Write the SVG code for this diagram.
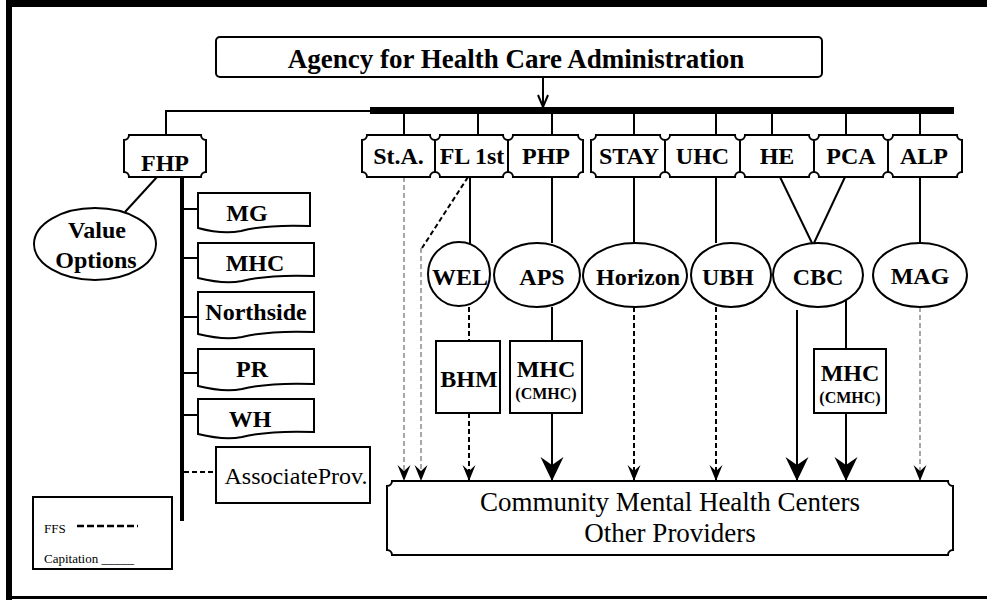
<svg xmlns="http://www.w3.org/2000/svg" width="987" height="600" viewBox="0 0 987 600">
<style>
.n{fill:#fff;stroke:#000;stroke-width:2}
.t{font-family:"Liberation Serif","Times New Roman",serif;font-weight:bold;font-size:24px;text-anchor:middle;fill:#000}
.r{font-family:"Liberation Serif","Times New Roman",serif;font-weight:normal;text-anchor:middle;fill:#000}
.s{stroke:#000;stroke-width:2;fill:none}
.d{stroke:#000;stroke-width:2;fill:none;stroke-dasharray:5 3}
.g{stroke:#8a8a8a;stroke-width:1.5;fill:none;stroke-dasharray:5 3}
</style>
<defs>
<marker id="sm" markerUnits="userSpaceOnUse" markerWidth="16" markerHeight="14" viewBox="0 -7 16 14" refX="16" refY="0" orient="auto">
<path d="M16,0 L0,-6.5 L6,0 L0,6.5 Z" fill="#000"/>
</marker>
<marker id="lg" markerUnits="userSpaceOnUse" markerWidth="24" markerHeight="24" viewBox="0 -12 24 24" refX="24" refY="0" orient="auto">
<path d="M24,0 L0,-11.5 L8,0 L0,11.5 Z" fill="#000"/>
</marker>
</defs>
<rect width="987" height="600" fill="#fff"/>
<g id="frame">
<rect x="6" y="0" width="981" height="7" fill="#000"/>
<rect x="6" y="0" width="6" height="600" fill="#000"/>
<line x1="6" y1="597.5" x2="987" y2="597.5" stroke="#000" stroke-width="3"/>
</g>
<g id="connectors">
<line class="s" x1="543" y1="77" x2="543" y2="106"/>
<polyline class="s" points="538,95 543,107 548,95"/>
<rect x="370" y="107" width="584" height="7" fill="#000"/>
<polyline class="s" points="370,111 166,111 166,135"/>
<line class="s" x1="404" y1="114" x2="404" y2="135"/>
<line class="s" x1="478" y1="114" x2="478" y2="135"/>
<line class="s" x1="552" y1="114" x2="552" y2="135"/>
<line class="s" x1="634" y1="114" x2="634" y2="135"/>
<line class="s" x1="716" y1="114" x2="716" y2="135"/>
<line class="s" x1="772" y1="114" x2="772" y2="135"/>
<line class="s" x1="846" y1="114" x2="846" y2="135"/>
<line class="s" x1="920" y1="114" x2="920" y2="135"/>
<line class="s" x1="157" y1="177" x2="125" y2="212"/>
<line x1="182" y1="177" x2="182" y2="521" stroke="#000" stroke-width="4"/>
<line class="s" x1="182" y1="209" x2="198" y2="209"/>
<line class="s" x1="182" y1="258" x2="198" y2="258"/>
<line class="s" x1="182" y1="317" x2="198" y2="317"/>
<line class="s" x1="182" y1="373" x2="198" y2="373"/>
<line class="s" x1="182" y1="415" x2="198" y2="415"/>
<line class="d" x1="184" y1="472" x2="216" y2="472"/>
<line class="g" x1="404" y1="177" x2="404" y2="481" marker-end="url(#sm)"/>
<line class="d" x1="468" y1="177" x2="422" y2="248"/>
<line class="g" x1="421" y1="248" x2="421" y2="481" marker-end="url(#sm)"/>
<line class="s" x1="470" y1="177" x2="470" y2="244"/>
<line class="d" x1="469" y1="307" x2="469" y2="341"/>
<line class="d" x1="469" y1="413" x2="469" y2="481" marker-end="url(#sm)"/>
<line class="s" x1="552" y1="177" x2="552" y2="243"/>
<line class="s" x1="552" y1="307" x2="552" y2="341"/>
<line class="s" x1="552" y1="413" x2="552" y2="481" marker-end="url(#lg)"/>
<line class="s" x1="634" y1="177" x2="634" y2="243"/>
<line class="d" x1="634" y1="307" x2="634" y2="481" marker-end="url(#sm)"/>
<line class="s" x1="716" y1="177" x2="716" y2="243"/>
<line class="d" x1="716" y1="307" x2="716" y2="481" marker-end="url(#sm)"/>
<line class="s" x1="780" y1="177" x2="812" y2="243"/>
<line class="s" x1="845" y1="177" x2="814" y2="243"/>
<line class="s" x1="797" y1="310" x2="797" y2="481" marker-end="url(#lg)"/>
<line class="s" x1="846" y1="300" x2="846" y2="349"/>
<line class="s" x1="846" y1="413" x2="846" y2="481" marker-end="url(#lg)"/>
<line class="s" x1="920" y1="177" x2="920" y2="243"/>
<line class="g" x1="920" y1="307" x2="920" y2="481" marker-end="url(#sm)"/>
</g>
<g id="agency">
<rect class="n" x="216" y="37" width="606" height="40" rx="4"/>
<text class="t" x="516" y="68" style="font-size:27px">Agency for Health Care Administration</text>
</g>
<g id="fhp">
<path class="n" d="M129,135 H201 A5 5 0 0 0 206,140 V172 A5 5 0 0 0 201,177 H129 A5 5 0 0 0 124,172 V140 A5 5 0 0 0 129,135 Z"/>
<text class="t" x="165" y="171">FHP</text>
</g>
<g id="sta">
<path class="n" d="M367,135 H430 A5 5 0 0 0 435,140 V172 A5 5 0 0 0 430,177 H367 A5 5 0 0 0 362,172 V140 A5 5 0 0 0 367,135 Z"/>
<text class="t" x="398.5" y="164">St.A.</text>
</g>
<g id="fl1st">
<path class="n" d="M440,135 H503 A5 5 0 0 0 508,140 V172 A5 5 0 0 0 503,177 H440 A5 5 0 0 0 435,172 V140 A5 5 0 0 0 440,135 Z"/>
<text class="t" x="472" y="164">FL 1st</text>
</g>
<g id="php">
<path class="n" d="M513,135 H578 A5 5 0 0 0 583,140 V172 A5 5 0 0 0 578,177 H513 A5 5 0 0 0 508,172 V140 A5 5 0 0 0 513,135 Z"/>
<text class="t" x="546" y="164">PHP</text>
</g>
<g id="stay">
<path class="n" d="M596,135 H660 A5 5 0 0 0 665,140 V172 A5 5 0 0 0 660,177 H596 A5 5 0 0 0 591,172 V140 A5 5 0 0 0 596,135 Z"/>
<text class="t" x="629" y="164">STAY</text>
</g>
<g id="uhc">
<path class="n" d="M670,135 H735 A5 5 0 0 0 740,140 V172 A5 5 0 0 0 735,177 H670 A5 5 0 0 0 665,172 V140 A5 5 0 0 0 670,135 Z"/>
<text class="t" x="702.5" y="164">UHC</text>
</g>
<g id="he">
<path class="n" d="M745,135 H809 A5 5 0 0 0 814,140 V172 A5 5 0 0 0 809,177 H745 A5 5 0 0 0 740,172 V140 A5 5 0 0 0 745,135 Z"/>
<text class="t" x="777" y="164">HE</text>
</g>
<g id="pca">
<path class="n" d="M819,135 H883 A5 5 0 0 0 888,140 V172 A5 5 0 0 0 883,177 H819 A5 5 0 0 0 814,172 V140 A5 5 0 0 0 819,135 Z"/>
<text class="t" x="851" y="164">PCA</text>
</g>
<g id="alp">
<path class="n" d="M893,135 H957 A5 5 0 0 0 962,140 V172 A5 5 0 0 0 957,177 H893 A5 5 0 0 0 888,172 V140 A5 5 0 0 0 893,135 Z"/>
<text class="t" x="924" y="164">ALP</text>
</g>
<g id="valueoptions">
<ellipse class="n" cx="95" cy="244" rx="61" ry="36"/>
<text class="t" x="97" y="238">Value</text>
<text class="t" x="96" y="268">Options</text>
</g>
<g id="mg">
<path class="n" d="M198,193 H310 V226 C285,225 260,226 241,231 C225,234 209,231 198,228 Z"/>
<text class="t" x="247" y="221">MG</text>
</g>
<g id="mhc-fhp">
<path class="n" d="M198,243 H314 V276 C288,275 262,276 242,281 C226,284 210,281 198,278 Z"/>
<text class="t" x="255" y="271">MHC</text>
</g>
<g id="northside">
<path class="n" d="M198,292 H314 V332 C288,331 262,332 242,337 C226,340 210,337 198,334 Z"/>
<text class="t" x="256" y="320">Northside</text>
</g>
<g id="pr">
<path class="n" d="M198,349 H314 V384 C288,383 262,384 242,389 C226,392 210,389 198,386 Z"/>
<text class="t" x="252" y="377">PR</text>
</g>
<g id="wh">
<path class="n" d="M198,399 H314 V432 C288,431 262,432 242,437 C226,440 210,437 198,434 Z"/>
<text class="t" x="250" y="427">WH</text>
</g>
<g id="associateprov">
<rect class="n" x="216" y="447" width="154" height="56"/>
<text class="r" x="296" y="484" style="font-size:24px">AssociateProv.</text>
</g>
<g id="wel">
<ellipse class="n" cx="459" cy="274" rx="31" ry="32"/>
<text class="t" x="460" y="285">WEL</text>
</g>
<g id="aps">
<ellipse class="n" cx="537" cy="275" rx="43" ry="32"/>
<text class="t" x="542" y="285">APS</text>
</g>
<g id="horizon">
<ellipse class="n" cx="635" cy="275" rx="52" ry="32"/>
<text class="t" x="638" y="285">Horizon</text>
</g>
<g id="ubh">
<ellipse class="n" cx="731" cy="275" rx="40" ry="32"/>
<text class="t" x="728" y="285">UBH</text>
</g>
<g id="cbc">
<ellipse class="n" cx="818" cy="275" rx="45" ry="32"/>
<text class="t" x="818" y="285">CBC</text>
</g>
<g id="mag">
<ellipse class="n" cx="920" cy="275" rx="47" ry="32"/>
<text class="t" x="920" y="284">MAG</text>
</g>
<g id="bhm">
<rect class="n" x="436" y="341" width="64" height="72"/>
<text class="t" x="469" y="387">BHM</text>
</g>
<g id="mhc-aps">
<rect class="n" x="510" y="341" width="72" height="72"/>
<text class="t" x="546" y="377">MHC</text>
<text class="t" x="546" y="399" style="font-size:16px">(CMHC)</text>
</g>
<g id="mhc-cbc">
<rect class="n" x="814" y="349" width="72" height="64"/>
<text class="t" x="850" y="381">MHC</text>
<text class="t" x="850" y="403" style="font-size:16px">(CMHC)</text>
</g>
<g id="community">
<path class="n" d="M392,481 H948 A5 5 0 0 0 953,486 V550 A5 5 0 0 0 948,555 H392 A5 5 0 0 0 387,550 V486 A5 5 0 0 0 392,481 Z"/>
<text class="r" x="670" y="511" style="font-size:27px">Community Mental Health Centers</text>
<text class="r" x="670" y="542" style="font-size:27px">Other Providers</text>
</g>
<g id="legend">
<rect class="n" x="33" y="497" width="139" height="72"/>
<text class="r" x="44" y="533" style="font-size:13px;text-anchor:start">FFS</text>
<line x1="77" y1="526" x2="138" y2="526" stroke="#000" stroke-width="2.5" stroke-dasharray="7 3"/>
<text class="r" x="44" y="563" style="font-size:13px;text-anchor:start">Capitation _____</text>
</g>
</svg>
